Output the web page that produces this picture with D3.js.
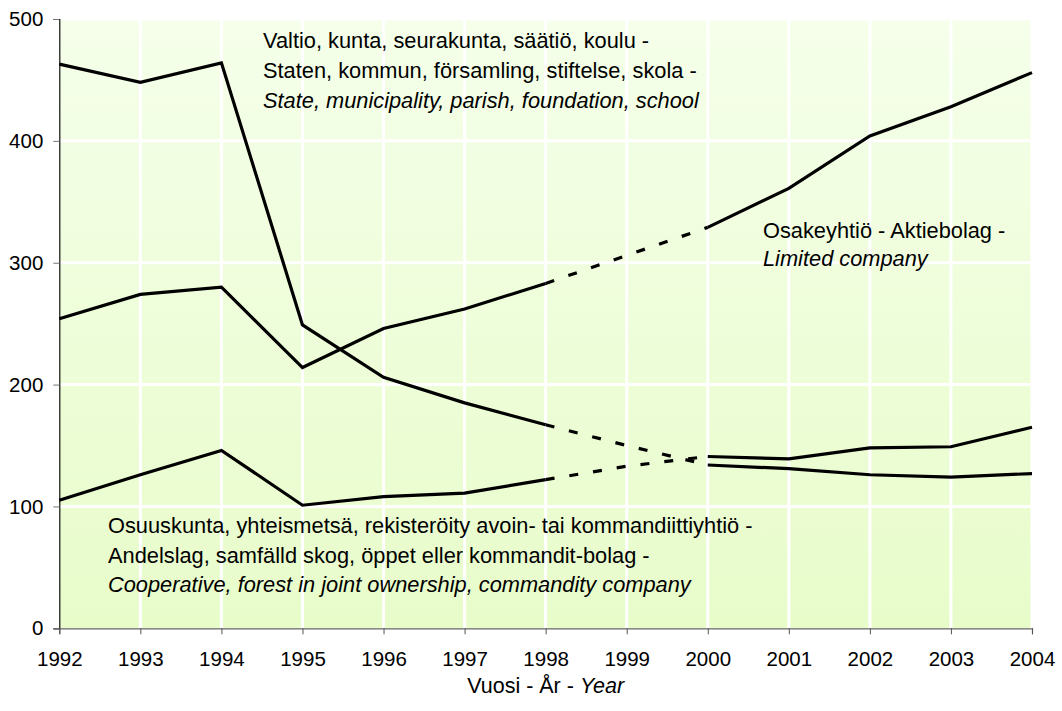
<!DOCTYPE html>
<html><head><meta charset="utf-8">
<script src="https://cdn.jsdelivr.net/npm/d3@7"></script>
<style>
html,body{margin:0;padding:0;background:#fff;}
svg{display:block;font-family:"Liberation Sans",Arial,sans-serif;}
</style></head>
<body><svg id="chart" width="1062" height="711"></svg>
<script>
const years = [1992,1993,1994,1995,1996,1997,1998,1999,2000,2001,2002,2003,2004];
const yTicks = [0,100,200,300,400,500];
const stateValues   = [463,448,464,249,206,185,167,150,134,131,126,124,127];
const limitedValues = [254,274,280,214,246,262,283,306,329,361,404,428,456];
const coopValues    = [105,126,146,101,108,111,122,133,141,139,148,149,165];
const dashedYears = [1998,1999,2000];
const labelState = ["Valtio, kunta, seurakunta, säätiö, koulu -","Staten, kommun, församling, stiftelse, skola -","State, municipality, parish, foundation, school"];
const labelLimited = ["Osakeyhtiö - Aktiebolag -","Limited company"];
const labelCoop = ["Osuuskunta, yhteismetsä, rekisteröity avoin- tai kommandiittiyhtiö -","Andelslag, samfälld skog, öppet eller kommandit-bolag -","Cooperative, forest in joint ownership, commandity company"];
const xTitle = ["Vuosi - År - ","Year"];

const svg = d3.select("#chart");
const L=59.3, R=1032, T=19, B=628.3;
const x = d3.scaleLinear().domain([1992,2004]).range([L,R]);
const y = d3.scaleLinear().domain([0,500]).range([B,T]);

const defs = svg.append("defs");
const grad = defs.append("linearGradient").attr("id","bg").attr("x1",0).attr("y1",0).attr("x2",0).attr("y2",1);
grad.append("stop").attr("offset","0%").attr("stop-color","#f5ffea");
grad.append("stop").attr("offset","100%").attr("stop-color","#e8fcca");

svg.append("rect").attr("x",L).attr("y",T).attr("width",R-L).attr("height",B-T).attr("fill","url(#bg)");

// grid
svg.append("g").selectAll("line").data(yTicks.filter(d=>d>0)).join("line")
  .attr("x1",L).attr("x2",R).attr("y1",d=>y(d)).attr("y2",d=>y(d))
  .attr("stroke","#fff").attr("stroke-width",3);
svg.append("g").selectAll("line").data(years.slice(1)).join("line")
  .attr("x1",d=>x(d)).attr("x2",d=>x(d)).attr("y1",T).attr("y2",B)
  .attr("stroke","#fff").attr("stroke-width",3);

// axes
const yAxis = svg.append("g").attr("transform",`translate(${L},0)`)
  .call(d3.axisLeft(y).tickValues(yTicks).tickSize(6).tickPadding(10).tickFormat(d3.format("d")));
yAxis.select(".domain").attr("stroke","#111").attr("stroke-width",1.2);
yAxis.selectAll(".tick line").attr("stroke","#777");
yAxis.selectAll("text").attr("font-size",20.5).attr("fill","#000").attr("font-family","Liberation Sans, Arial, sans-serif");

const xAxis = svg.append("g").attr("transform",`translate(0,${B})`)
  .call(d3.axisBottom(x).tickValues(years).tickSize(6).tickPadding(17).tickFormat(d3.format("d")));
xAxis.select(".domain").attr("stroke","#666").attr("stroke-width",1.2);
xAxis.selectAll(".tick line").attr("stroke","#555");
xAxis.selectAll("text").attr("font-size",20.5).attr("fill","#000").attr("font-family","Liberation Sans, Arial, sans-serif");

// lines
const line = d3.line().x(d=>x(d[0])).y(d=>y(d[1]));
const series = [stateValues, limitedValues, coopValues];
series.forEach(vals=>{
  const pts = years.map((yr,i)=>[yr,vals[i]]);
  const solid1 = pts.filter(p=>p[0]<=1998);
  const solid2 = pts.filter(p=>p[0]>=2000);
  const dashed = pts.filter(p=>dashedYears.includes(p[0]));
  [solid1,solid2].forEach(seg=>{
    svg.append("path").datum(seg).attr("d",line).attr("fill","none")
      .attr("stroke","#000").attr("stroke-width",3.2).attr("stroke-linejoin","miter");
  });
  svg.append("path").datum(dashed).attr("d",line).attr("fill","none")
    .attr("stroke","#000").attr("stroke-width",3.2).attr("stroke-dasharray","9,15");
});

// labels
function block(lines, x0, y0, dy){
  const t = svg.append("text").attr("font-size",21.8).attr("fill","#000");
  lines.forEach((s,i)=>{
    t.append("tspan").attr("x",x0).attr("y",y0+i*dy).text(s)
      .attr("font-style", i===lines.length-1 ? "italic" : "normal");
  });
}
block(labelState, 263, 48, 29.8);
block(labelLimited, 763, 237.5, 28);
block(labelCoop, 108, 533.3, 29.2);

const xt = svg.append("text").attr("x",(L+R)/2).attr("y",693).attr("text-anchor","middle").attr("font-size",21.5).attr("fill","#000");
xt.append("tspan").text(xTitle[0]);
xt.append("tspan").attr("font-style","italic").text(xTitle[1]);
</script></body></html>
